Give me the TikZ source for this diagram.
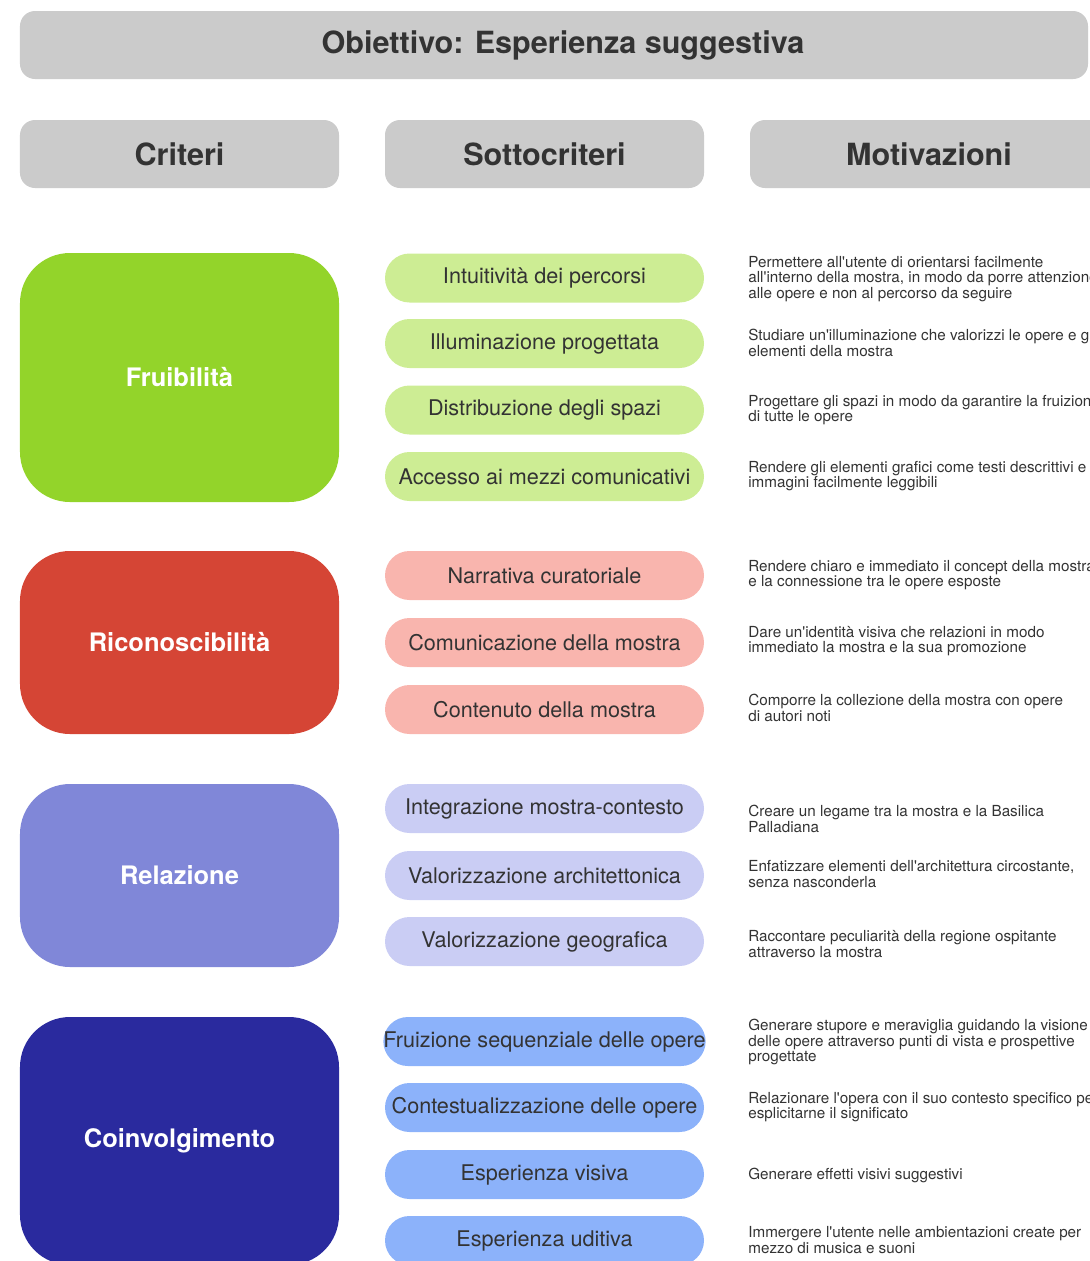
\documentclass[tikz,border=0pt]{standalone}
\usepackage{fontspec}
\setmainfont{TeX Gyre Heros}[Ligatures=TeXOff]
\usetikzlibrary{positioning}
\definecolor{ink}{HTML}{333333}
\definecolor{panel}{HTML}{CBCBCB}
\definecolor{fruidark}{HTML}{93D42A}
\definecolor{fruilight}{HTML}{CDED94}
\definecolor{ricdark}{HTML}{D54535}
\definecolor{riclight}{HTML}{F9B5AE}
\definecolor{reldark}{HTML}{8087D8}
\definecolor{rellight}{HTML}{CACDF4}
\definecolor{coidark}{HTML}{2A2A9E}
\definecolor{coilight}{HTML}{8CB2FA}
\tikzset{
  % intestazioni
  bar/.style={fill=panel,rounded corners=3mm,inner sep=0pt,minimum height=13.6mm,
              text=ink,font=\fontsize{17.4}{20}\selectfont\bfseries},
  col/.style={bar,minimum width=63.8mm},
  % criteri, sottocriteri, motivazioni
  crit/.style={rounded corners=10mm,inner sep=0pt,minimum width=63.8mm,text=white,
               font=\fontsize{14.5}{17}\selectfont\bfseries},
  sub/.style={rounded corners=4.9mm,inner sep=0pt,minimum width=63.8mm,minimum height=9.8mm,
              text=ink,font=\fontsize{12.3}{14}\selectfont},
  why/.style={anchor=west,align=left,inner sep=0pt,text=ink,
              font=\fontsize{8.67}{8.8}\selectfont},
}

\begin{document}
\begin{tikzpicture}[x=0.2mm,y=-0.2mm]
  \useasboundingbox (0,0) rectangle (1090,1261);
  \clip (0,0) rectangle (1090,1261);
  % titolo e colonne
  \node[bar,minimum width=213.6mm] (goal) at (554,45) {\hspace*{3.6mm}Obiettivo: Esperienza suggestiva};
  \node[col] (hcrit) at (179.5,154) {Criteri};
  \node[col] (hsub) at (544.5,154) {Sottocriteri};
  \node[col,minimum width=71.6mm] (hwhy) at (929,154) {Motivazioni};
  % criteri
  \foreach \n/\y/\h/\c [count=\i] in {Fruibilità/377.5/49.8/fruidark,
      Riconoscibilità/642.5/36.6/ricdark,Relazione/875.5/36.6/reldark,
      Coinvolgimento/1141/49.6/coidark} {
    \node[crit,fill=\c,minimum height=\h mm] (c\i) at (179.5,\y) {\n};
  }
  % sottocriteri
  \foreach \t/\y/\c [count=\i] in {Intuitività dei percorsi/278/fruilight,
      Illuminazione progettata/343.5/fruilight,Distribuzione degli spazi/410/fruilight,
      Accesso ai mezzi comunicativi/476.5/fruilight,
      Narrativa curatoriale/575.5/riclight,Comunicazione della mostra/642.5/riclight,
      Contenuto della mostra/709.5/riclight,
      Integrazione mostra-contesto/808.5/rellight,Valorizzazione architettonica/875.5/rellight,
      Valorizzazione geografica/941.5/rellight,
      Fruizione sequenziale delle opere/1041.5/coilight,
      Contestualizzazione delle opere/1107.5/coilight,
      Esperienza visiva/1174.5/coilight,Esperienza uditiva/1240.5/coilight} {
    \node[sub,fill=\c] (s\i) at (544.5,\y) {\t};
  }
  % motivazioni
  \foreach \t/\y [count=\i] in {
      {Permettere all'utente di orientarsi facilmente\\all'interno della mostra, in modo da porre attenzione\\alle opere e non al percorso da seguire}/279,
      {Studiare un'illuminazione che valorizzi le opere e gli\\elementi della mostra}/343,
      {Progettare gli spazi in modo da garantire la fruizione\\di tutte le opere}/410,
      {Rendere gli elementi grafici come testi descrittivi e\\immagini facilmente leggibili}/476,
      {Rendere chiaro e immediato il concept della mostra\\e la connessione tra le opere esposte}/575,
      {Dare un'identità visiva che relazioni in modo\\immediato la mostra e la sua promozione}/641,
      {Comporre la collezione della mostra con opere\\di autori noti}/708,
      {Creare un legame tra la mostra e la Basilica\\Palladiana}/819,
      {Enfatizzare elementi dell'architettura circostante,\\senza nasconderla}/874,
      {Raccontare peculiarità della regione ospitante\\attraverso la mostra}/944,
      {Generare stupore e meraviglia guidando la visione\\delle opere attraverso punti di vista e prospettive\\progettate}/1042,
      {Relazionare l'opera con il suo contesto specifico per\\esplicitarne il significato}/1107,
      {Generare effetti visivi suggestivi}/1175,
      {Immergere l'utente nelle ambientazioni create per\\mezzo di musica e suoni}/1240} {
    \node[why] (m\i) at (748,\y) {\t};
  }
\end{tikzpicture}
\end{document}
